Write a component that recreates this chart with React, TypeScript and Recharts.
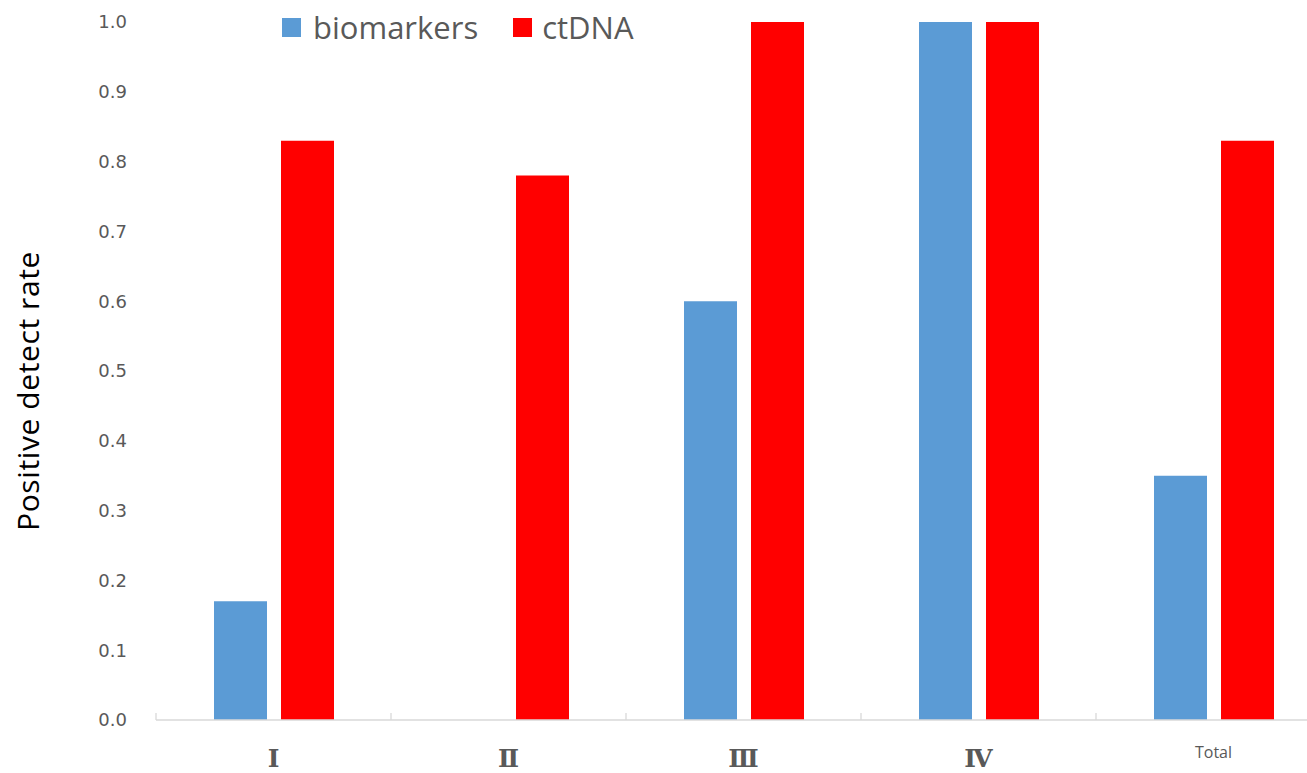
import React from 'react'
import { BarChart, Bar, XAxis, YAxis } from 'recharts'

const stages = ['Ⅰ', 'Ⅱ', 'Ⅲ', 'Ⅳ', 'Total']
const biomarkers = [0.17, 0, 0.6, 1.0, 0.35]
const ctDNA = [0.83, 0.78, 1.0, 1.0, 0.83]
const yTicks = [0, 0.1, 0.2, 0.3, 0.4, 0.5, 0.6, 0.7, 0.8, 0.9, 1.0]
const seriesNames = ['biomarkers', 'ctDNA']

const data = stages.map((stage, i) => ({
  stage,
  biomarkers: biomarkers[i],
  ctDNA: ctDNA[i],
}))

const BLUE = '#5b9bd5'
const RED = '#ff0000'
const GREY = '#595959'
const AXIS = '#d9d9d9'

// label under each category + the small divider tick at the left edge of its band
const StageTick = (props: any) => {
  const { x, y, payload } = props
  const isTotal = payload.value === 'Total'
  const edge = x - (payload.offset || 0)
  return (
    <g>
      <line x1={edge} x2={edge} y1={y - 7} y2={y} stroke={AXIS} strokeWidth={1.3} />
      <text
        x={x}
        y={y + (isTotal ? 38 : 47)}
        textAnchor='middle'
        fill={GREY}
        style={{
          fontFamily: isTotal ? '"Open Sans", sans-serif' : '"DejaVu Serif", serif',
          fontSize: isTotal ? 16 : 25,
          fontWeight: isTotal ? 400 : 700,
        }}
      >
        {payload.value}
      </text>
    </g>
  )
}

const YLabel = (props: any) => {
  const { viewBox } = props
  const cx = viewBox.x + 31
  const cy = viewBox.y + viewBox.height / 2 + 20
  return (
    <text
      x={cx}
      y={cy}
      transform={`rotate(-90, ${cx}, ${cy})`}
      textAnchor='middle'
      dominantBaseline='middle'
      fill='#000'
      style={{ fontFamily: '"Open Sans", sans-serif', fontSize: 30, letterSpacing: 0.6 }}
    >
      Positive detect rate
    </text>
  )
}

const Swatch = ({ color }: { color: string }) => (
  <span style={{ width: 19, height: 19, background: color, display: 'inline-block' }} />
)

export default function App() {
  return (
    <div style={{ position: 'absolute', left: 0, top: 0, width: 1307, height: 773, overflow: 'hidden', background: '#fff' }}>
      <BarChart
        width={1331}
        height={773}
        data={data}
        margin={{ top: 22, right: 0, bottom: 0, left: 0 }}
        barSize={53}
        barGap={14}
      >
        <XAxis
          dataKey='stage'
          height={53}
          axisLine={{ stroke: AXIS, strokeWidth: 1.3 }}
          tickLine={false}
          tickSize={0}
          tickMargin={0}
          tick={<StageTick />}
          interval={0}
        />
        <YAxis
          width={156}
          domain={[0, 1]}
          ticks={yTicks}
          tickFormatter={(v: number) => v.toFixed(1)}
          axisLine={false}
          tickLine={false}
          tickSize={0}
          tickMargin={29}
          tick={{ fill: GREY, fontSize: 18, fontFamily: '"DejaVu Sans", sans-serif' }}
          label={<YLabel />}
        />
        <Bar dataKey='biomarkers' fill={BLUE} isAnimationActive={false} />
        <Bar dataKey='ctDNA' fill={RED} isAnimationActive={false} />
      </BarChart>
      <div
        style={{
          position: 'absolute',
          left: 282,
          top: 7,
          height: 40,
          display: 'flex',
          alignItems: 'center',
          fontFamily: '"Open Sans", sans-serif',
          fontSize: 31,
          color: GREY,
          whiteSpace: 'nowrap',
        }}
      >
        <Swatch color={BLUE} />
        <span style={{ marginLeft: 12, marginRight: 35 }}>{seriesNames[0]}</span>
        <Swatch color={RED} />
        <span style={{ marginLeft: 10 }}>{seriesNames[1]}</span>
      </div>
    </div>
  )
}
